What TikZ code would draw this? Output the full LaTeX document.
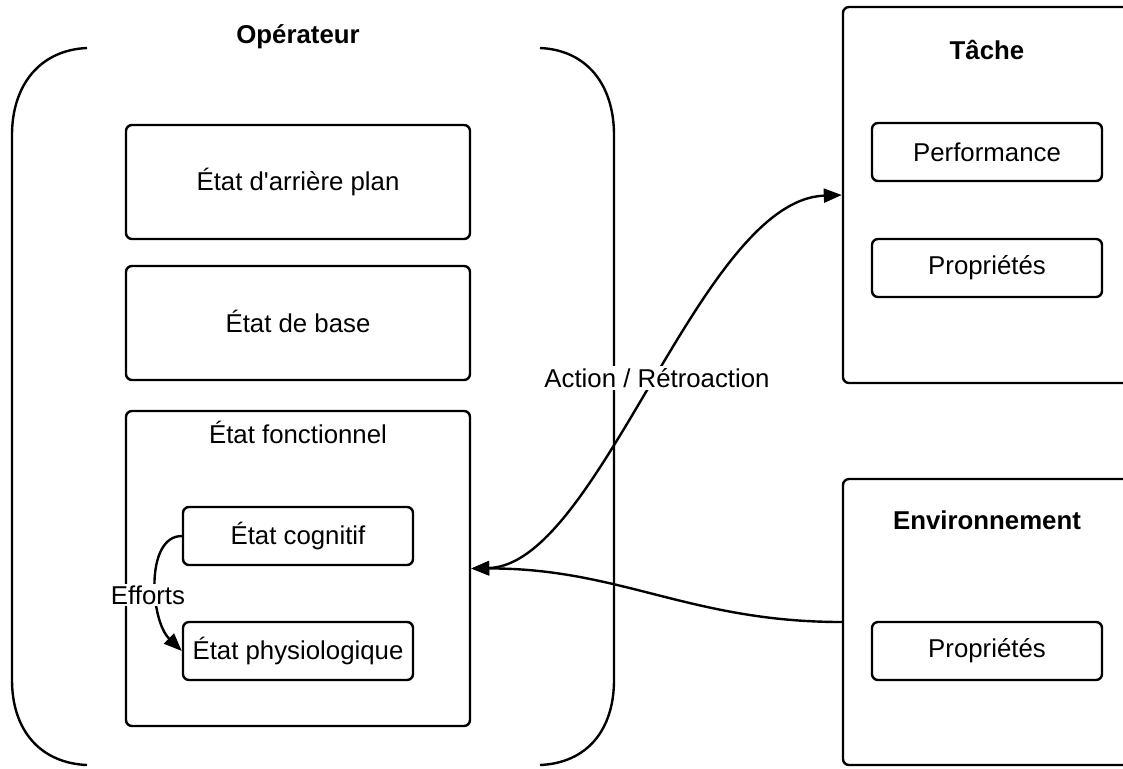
\documentclass[tikz,border=0pt]{standalone}
\usepackage{fontspec}
\setmainfont{Liberation Sans}[Ligatures=TeXOff]
\usepackage{tikz}
\usetikzlibrary{arrows.meta}
\newcommand{\boxfont}{\fontsize{12.9pt}{15pt}\selectfont}
\tikzset{
 box/.style={draw, line width=1.2pt, rounded corners=3pt, align=center},
 small/.style={box, minimum width=115pt, minimum height=29pt},
 title/.style={font=\boxfont\bfseries},
 link/.style={line width=1.2pt, >={Triangle[length=9pt,width=7pt]}},
}

\begin{document}
\begin{tikzpicture} [x=0.5pt, y=-0.5pt, every node/.style={font=\boxfont}]
\useasboundingbox (0,0) rectangle (1123,768);
% operateur
\draw[line width=1.2pt] (87,48) .. controls (40,50) and (12,85) .. (12,135) -- (12,680) .. controls (12,730) and (40,763) .. (87,765);
\draw[line width=1.2pt] (540,48) .. controls (587,50) and (614,85) .. (614,135) -- (614,680) .. controls (614,730) and (587,763) .. (540,765);
\node[title] (operateur) at (298,37) {Opérateur};
\node[box, minimum width=172pt, minimum height=57pt] (arriere) at (298,182) {État d'arrière plan};
\node[box, minimum width=172pt, minimum height=57pt] (base) at (298,323) {};
\node (basetext) at (298,321) {État de base};
\node[box, minimum width=172pt, minimum height=157.5pt] (fonc) at (298,568.5) {};
\node (fonctitle) at (298,432) {État fonctionnel};
\node[small] (cognitif) at (298,536) {État cognitif};
\node[small] (physio) at (298,651) {État physiologique};
% tache et environnement
\node[box, minimum width=148.5pt, minimum height=188pt] (tache) at (991.5,195) {};
\node[title] (tachetitle) at (987,50) {Tâche};
\node[box, minimum width=148.5pt, minimum height=143pt] (env) at (991.5,622) {};
\node[title] (envtitle) at (987,520) {Environnement};
\foreach \n/\y/\t in {perf/152/Performance, propt/268/Propriétés, prope/651/Propriétés}
 \node[small] (\n) at (987,\y) {\t};
% liens
\draw[link, <->] (fonc.east) .. controls (600,565) and (700,200) .. (tache.west);
\node[fill=white, inner sep=1pt] (action) at (657,378) {Action / Rétroaction};
\draw[link, ->] (env.west) .. controls (690,622) and (620,568) .. (fonc.east);
\draw[link, ->] (cognitif.west) .. controls (145,536) and (150,620) .. (physio.west);
\node[fill=white, inner sep=1pt] (efforts) at (148,595) {Efforts};
\end{tikzpicture}
\end{document}
